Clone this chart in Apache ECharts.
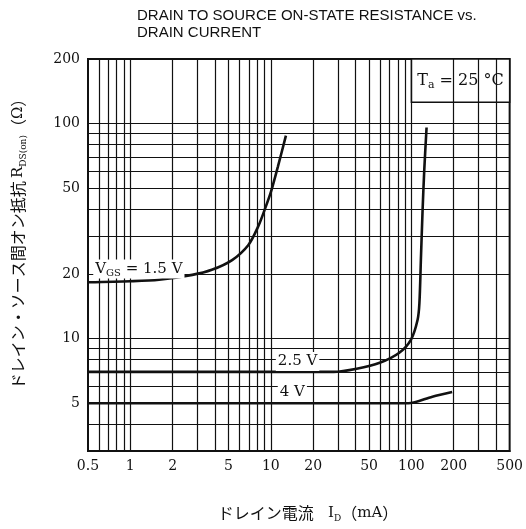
<!DOCTYPE html>
<html>
<head>
<meta charset="utf-8">
<script src="https://cdn.jsdelivr.net/npm/echarts@6/dist/echarts.min.js"></script>
<style>
html, body { margin: 0; padding: 0; background: #fff; }
#chart { width: 526px; height: 529px; }
</style>
</head>
<body>
<div id="chart"></div>
<script>
// Axis ticks and log grid lines
const xTicks = [0.5, 1, 2, 5, 10, 20, 50, 100, 200, 500];
const yTicks = [5, 10, 20, 50, 100, 200];
const xGrid = [0.6, 0.7, 0.8, 0.9, 1, 2, 3, 4, 5, 6, 7, 8, 9, 10, 20, 30, 40, 50, 60, 70, 80, 90, 100, 200, 300, 400];
const yGrid = [4, 5, 6, 7, 8, 9, 10, 20, 30, 40, 50, 60, 70, 80, 90, 100];

// R_DS(on) [ohm] vs I_D [mA] for each gate voltage
const vgs15 = [[0.5, 18.3], [1, 18.5], [1.6, 18.8], [2.76, 19.8], [3.8, 20.9], [5.3, 23.2], [6.9, 27.2], [8.1, 33.1], [9.0, 39.5], [10, 48], [11.2, 62.8], [12.8, 88]];
const vgs25 = [[0.5, 7.0], [10, 7.0], [28, 7.0], [40.8, 7.24], [59.5, 7.72], [82, 8.6], [99.4, 9.9], [110.6, 12.2], [114, 14.6], [116.8, 23.2], [120.1, 39.5], [123.4, 60.5], [128.2, 96]];
const vgs4 = [[0.5, 5.0], [95, 5.0], [141, 5.37], [195, 5.64]];

// Curve labels, anchored at their left edge
const curveLabels = [
  { at: [0.545, 21.1], text: '{r|V}{s|GS}{r| = 1.5 V}' },
  { at: [10.85, 7.83], text: '{r|2.5 V}' },
  { at: [11.2, 5.62], text: '{r|4 V}' }
];

const SERIF = "'DejaVu Serif', 'Liberation Serif', serif";
const SANS = "'Liberation Sans', Arial, sans-serif";
const CJK = "'Noto Sans CJK JP', sans-serif";
const INK = '#111111';

function tickText(v) {
  let best = v, d = Infinity;
  for (const t of xTicks.concat(yTicks)) {
    const e = Math.abs(Math.log(t) - Math.log(v));
    if (e < d) { d = e; best = t; }
  }
  return String(best);
}

const richSerif = {
  r: { fontFamily: SERIF, fontSize: 15, color: INK, lineHeight: 19 },
  s: { fontFamily: SERIF, fontSize: 10, color: INK, verticalAlign: 'bottom', lineHeight: 12, padding: [7, 0, 0, 0] }
};

const axisNameRich = {
  j: { fontFamily: CJK, fontSize: 16, fill: INK, lineHeight: 20 },
  r: { fontFamily: SERIF, fontSize: 15, fill: INK, lineHeight: 20 },
  s: { fontFamily: SERIF, fontSize: 9, fill: INK, verticalAlign: 'bottom', lineHeight: 12, padding: [7, 0, 0, 0] }
};

const chart = echarts.init(document.getElementById('chart'), null, { renderer: 'canvas' });

chart.setOption({
  animation: false,
  backgroundColor: '#fff',
  grid: { left: 88, right: 11, top: 59, bottom: 78, show: true, borderColor: INK, borderWidth: 2, backgroundColor: 'transparent' },
  xAxis: {
    type: 'log', logBase: 10, min: 0.5, max: 500,
    axisLine: { show: true, lineStyle: { color: INK, width: 2 } },
    axisTick: { show: false },
    splitLine: { show: false },
    minorSplitLine: { show: false },
    axisLabel: { customValues: xTicks, formatter: tickText, fontFamily: SERIF, fontSize: 14, color: INK, margin: 8 }
  },
  yAxis: {
    type: 'log', logBase: 10, min: 3, max: 200,
    axisLine: { show: true, lineStyle: { color: INK, width: 2 } },
    axisTick: { show: false },
    splitLine: { show: false },
    minorSplitLine: { show: false },
    axisLabel: { customValues: yTicks, formatter: tickText, fontFamily: SERIF, fontSize: 14, color: INK, margin: 8 }
  },
  series: [
    {
      // log grid
      type: 'line', data: [], z: 1, silent: true,
      markLine: {
        silent: true, symbol: ['none', 'none'], label: { show: false },
        lineStyle: { color: INK, width: 1.2, type: 'solid' },
        emphasis: { disabled: true },
        data: xGrid.map(v => ({ xAxis: v })).concat(yGrid.map(v => ({ yAxis: v })))
      }
    },
    {
      // ambient temperature box
      type: 'line', data: [], z: 2, silent: true,
      markArea: {
        silent: true,
        itemStyle: { color: '#fff', borderColor: INK, borderWidth: 1.5, opacity: 1 },
        label: {
          show: true, position: 'inside',
          formatter: '{r|T}{s|a}{r| = 25 °C}',
          rich: {
            r: { fontFamily: SERIF, fontSize: 16, color: INK, lineHeight: 20 },
            s: { fontFamily: SERIF, fontSize: 11, color: INK, verticalAlign: 'bottom', lineHeight: 12, padding: [8, 0, 0, 0] }
          }
        },
        data: [[{ xAxis: 100, yAxis: 126 }, { xAxis: 500, yAxis: 200 }]]
      }
    },
    ...[vgs15, vgs25, vgs4].map(d => ({
      type: 'line', data: d, z: 3, smooth: 0.3,
      symbol: 'none', silent: true,
      lineStyle: { color: INK, width: 2.6 }
    })),
    {
      type: 'scatter', z: 10, zlevel: 0, symbolSize: 0, silent: true,
      itemStyle: { opacity: 1, color: INK },
      data: curveLabels.map(l => ({ value: l.at, name: l.text })),
      label: {
        show: true, position: 'right', distance: 0, opacity: 1, color: INK,
        formatter: p => p.name,
        backgroundColor: '#fff', padding: [0, 2, 0, 2],
        rich: richSerif
      },
      emphasis: { disabled: true }
    }
  ],
  graphic: [
    {
      type: 'text', left: 137, top: 7,
      style: { text: 'DRAIN TO SOURCE ON-STATE RESISTANCE vs.\nDRAIN CURRENT', font: '15px ' + SANS, fill: INK, lineHeight: 17 }
    },
    {
      type: 'text', x: 18, y: 240, rotation: Math.PI / 2,
      style: {
        text: '{j|ドレイン・ソース間オン抵抗} {r|R}{s|DS(on)}{j|（}{r|Ω}{j|）}',
        align: 'center', verticalAlign: 'middle',
        rich: axisNameRich
      }
    },
    {
      type: 'text', x: 308, y: 513,
      style: {
        text: '{j|ドレイン電流}{r|   I}{s|D}{j|（}{r|mA}{j|）}',
        align: 'center', verticalAlign: 'middle',
        rich: axisNameRich
      }
    }
  ]
});
</script>
</body>
</html>
